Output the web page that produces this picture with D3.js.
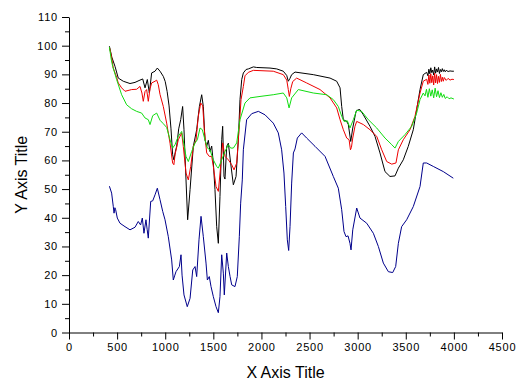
<!DOCTYPE html>
<html>
<head>
<meta charset="utf-8">
<script src="https://cdn.jsdelivr.net/npm/d3@7"></script>
<style>
  html, body { margin: 0; padding: 0; background: #fff; }
  svg { display: block; }
  .tick text { font-family: "Liberation Sans", Arial, sans-serif; font-size: 11px; letter-spacing: 0.8px; fill: #000; }
  .title { font-family: "Liberation Sans", Arial, sans-serif; font-size: 16px; fill: #000; }
</style>
</head>
<body>
<svg id="chart" width="523" height="383"></svg>
<script>
// ---------- data ----------
const xTicks = [0, 500, 1000, 1500, 2000, 2500, 3000, 3500, 4000, 4500];
const yTicks = [0, 10, 20, 30, 40, 50, 60, 70, 80, 90, 100, 110];
const xTitle = "X Axis Title";
const yTitle = "Y Axis Title";

const blackSeries = [[420,99.8],[445,96],[478,92.8],[512,88.7],[564,87.6],[634,86.8],[686,87.2],[738,88.0],[766,88.4],[790,85.3],[814,88.2],[835,83.5],[859,90.5],[894,91.1],[918,92.2],[946,91.1],[980,89.3],[1000,87.5],[1020,84],[1040,79],[1060,71],[1077,62],[1090,60.2],[1105,63],[1119,64.9],[1140,71],[1161,74.2],[1181,78.8],[1195,70.7],[1216,53.2],[1233,39.3],[1258,49.8],[1292,64.9],[1327,70.7],[1355,78.8],[1379,82.9],[1396,78.8],[1413,67.2],[1431,64.9],[1448,67],[1465,63.1],[1483,65],[1500,59.1],[1517,49.8],[1535,36.9],[1552,31.1],[1569,47.4],[1587,67.2],[1597,71.9],[1611,54.4],[1621,53.5],[1639,64.9],[1656,66],[1680,59.1],[1708,51.5],[1736,54.4],[1760,67.2],[1777,81.2],[1795,88.2],[1812,90.5],[1840,91.7],[1864,91.9],[1916,92.6],[1951,92.4],[2089,92.2],[2159,91.9],[2227,91.1],[2263,89.6],[2279,87.6],[2295,88.5],[2314,89.9],[2349,90.8],[2539,89.9],[2713,88.7],[2782,87.6],[2817,85.3],[2834,78.8],[2851,74.2],[2886,73.6],[2903,72.5],[2928,66.6],[2949,71.3],[2983,77.1],[3007,77.7],[3024,77.7],[3059,75.9],[3128,71.9],[3180,68.4],[3232,62.6],[3284,56.1],[3336,54.4],[3388,54.6],[3423,57.3],[3474,60.2],[3526,64.9],[3578,70.7],[3613,77.7],[3648,84.7],[3682,89.9],[3717,90.7],[3730,89.5],[3740,91.8],[3750,90.2],[3760,92.3],[3770,90.6],[3780,91.5],[3790,89.8],[3800,92.6],[3810,90.4],[3820,91.9],[3830,90.8],[3840,92.4],[3850,90.3],[3860,91.7],[3870,90.9],[3880,92.0],[3890,91.0],[3900,91.6],[3910,90.9],[3920,91.4],[3940,91.0],[3960,91.2],[3980,91.1],[4000,91.1]];

const redSeries = [[420,99.5],[440,96.5],[460,92.2],[495,89],[512,87.0],[547,85.3],[582,84.1],[651,84.7],[703,84.8],[738,85.8],[758,83.5],[772,80.6],[790,84],[807,84.7],[824,80.6],[842,85],[859,87.0],[894,87.6],[911,88.0],[928,86.4],[946,83],[980,78.8],[1015,73.0],[1050,66],[1077,59.1],[1090,58.5],[1102,62],[1136,67.2],[1171,69.6],[1188,64.9],[1216,55.6],[1240,53.2],[1265,57.9],[1292,64.9],[1320,67],[1344,75.4],[1369,80.0],[1390,79],[1406,70.7],[1431,62.6],[1458,61.4],[1483,61.4],[1500,57.9],[1528,50.9],[1552,49.2],[1576,57.9],[1597,66.1],[1621,61.4],[1656,60.2],[1691,58.5],[1715,56.7],[1743,59.1],[1767,70.7],[1788,81.2],[1812,85.8],[1829,89.5],[1864,90.7],[1916,91.4],[2123,91.1],[2227,89.9],[2263,88],[2279,84.7],[2290,82.3],[2305,85],[2325,87.5],[2366,88.7],[2470,87.0],[2609,84.7],[2713,81.8],[2782,78.3],[2817,74.2],[2851,70.7],[2886,67.8],[2911,67.2],[2925,63.7],[2935,64.5],[2949,67.8],[2972,71.9],[2990,73.6],[3059,72.5],[3128,70.7],[3198,68.4],[3250,63.7],[3302,59.6],[3354,58.7],[3398,59.1],[3423,63.7],[3474,67.2],[3544,70.7],[3596,75.4],[3648,83.5],[3682,87.6],[3717,88.3],[3730,86.5],[3740,89.8],[3750,86.9],[3760,90.2],[3770,87.1],[3780,89.5],[3790,86.3],[3800,90.4],[3810,87.0],[3820,89.9],[3830,86.8],[3840,89.3],[3850,87.2],[3860,90.0],[3870,87.5],[3880,89.0],[3890,87.6],[3900,88.9],[3920,87.9],[3940,88.6],[3960,88.0],[3980,88.3],[4000,88.2]];

const greenSeries = [[420,99.5],[440,95],[454,92.8],[495,88.2],[547,82.9],[599,79.4],[651,78.0],[703,77.1],[755,76.5],[790,74.8],[824,74.2],[842,72.5],[870,75.6],[911,76.5],[946,74],[980,72.8],[1015,71.5],[1050,67.2],[1077,64.3],[1102,65.5],[1136,68.4],[1171,70.1],[1188,66.8],[1216,61.4],[1240,59.6],[1275,63.1],[1310,66.1],[1334,67.2],[1362,71.3],[1386,70.7],[1413,67.2],[1438,64.3],[1465,63.7],[1500,60.2],[1535,57.9],[1552,57.3],[1587,60.2],[1621,63.1],[1656,65.5],[1680,64.3],[1708,64.3],[1743,66.1],[1777,74.2],[1829,80.0],[1881,81.8],[1985,82.3],[2123,82.9],[2227,83.5],[2263,81.8],[2287,78.3],[2314,81.8],[2383,84.7],[2539,83.5],[2678,82.9],[2747,81.2],[2799,78.8],[2834,75.4],[2858,73.6],[2893,73.8],[2920,71.3],[2955,74.2],[2990,77.5],[3041,77.1],[3111,74.2],[3198,71.3],[3284,67.8],[3354,65.5],[3388,64.3],[3423,66.6],[3492,69.0],[3562,71.9],[3613,76.5],[3648,81.2],[3682,83.5],[3700,82.5],[3715,84.8],[3730,82.0],[3745,85.0],[3760,82.4],[3775,84.6],[3790,81.8],[3805,85.2],[3820,82.2],[3835,84.3],[3850,81.9],[3865,83.6],[3880,82.0],[3895,83.0],[3910,81.6],[3930,82.2],[3950,81.5],[3970,81.8],[4000,81.4]];

const blueSeries = [[420,51],[443,48.6],[460,44],[468,41.6],[477,43.5],[485,42.8],[502,39.9],[530,38.1],[582,36.9],[634,35.8],[686,36.7],[720,38.7],[744,37.5],[762,39.9],[779,34.6],[800,39.3],[812,36],[824,32.9],[849,45.7],[870,45.9],[894,48.0],[918,50.3],[946,46.3],[974,42.2],[998,39.3],[1032,33.4],[1067,25.3],[1084,18.3],[1100,20],[1112,21.2],[1147,23.0],[1164,27.1],[1175,20],[1195,13.1],[1229,9.0],[1258,11.9],[1286,21.8],[1310,23.0],[1327,19.5],[1351,32.3],[1372,40.5],[1396,33.4],[1424,24.2],[1438,18.3],[1458,19.5],[1476,16.0],[1500,12.5],[1528,9.0],[1552,6.9],[1569,12.5],[1587,27.1],[1604,20.7],[1614,13.1],[1639,27.7],[1656,23.0],[1674,19.5],[1691,16.6],[1725,16.0],[1749,19.5],[1770,33.4],[1784,45.1],[1801,53.2],[1812,63.7],[1846,74.2],[1899,76.3],[1968,77.1],[2037,75.9],[2123,73.0],[2175,69.6],[2210,63.7],[2234,55.6],[2252,43.9],[2269,32.3],[2283,28.6],[2297,36.9],[2314,52.1],[2332,62.6],[2349,64],[2373,67.8],[2418,69.6],[2470,67.8],[2557,64.9],[2661,61.4],[2747,54.4],[2799,50.3],[2834,42.8],[2858,35.2],[2879,33.4],[2900,33.7],[2920,31.1],[2931,28.8],[2949,35.8],[2990,43.4],[3024,39.9],[3094,38.1],[3163,34.6],[3215,30.0],[3267,24.2],[3319,21.2],[3364,20.9],[3395,23.0],[3423,31.1],[3457,36.9],[3509,39.3],[3578,43.9],[3648,50.9],[3682,59.1],[3717,59.1],[3786,57.9],[3890,56.1],[3994,53.8]];

const seriesList = [
  { name: "black", data: blackSeries, color: "#000000" },
  { name: "red", data: redSeries, color: "#ee0000" },
  { name: "green", data: greenSeries, color: "#11dd11" },
  { name: "blue", data: blueSeries, color: "#00008b" }
];

// ---------- layout ----------
const svg = d3.select("#chart");
const mLeft = 69, mRight = 502, mTop = 17, mBottom = 332.5;

const x = d3.scaleLinear().domain([0, 4500]).range([mLeft, mRight]);
const y = d3.scaleLinear().domain([0, 110]).range([mBottom, mTop]);

svg.append("rect").attr("width", 523).attr("height", 383).attr("fill", "#fff");

// minor ticks
const xMinor = d3.range(250, 4500, 500);
const yMinor = d3.range(5, 110, 10);

svg.append("g").attr("transform", `translate(0,${mBottom})`)
  .call(d3.axisBottom(x).tickValues(xMinor).tickSize(4).tickSizeOuter(0).tickFormat(""))
  .call(g => g.select(".domain").remove());
svg.append("g").attr("transform", `translate(${mLeft},0)`)
  .call(d3.axisLeft(y).tickValues(yMinor).tickSize(4).tickSizeOuter(0).tickFormat(""))
  .call(g => g.select(".domain").remove());

svg.append("g").attr("transform", `translate(0,${mBottom})`)
  .call(d3.axisBottom(x).tickValues(xTicks).tickSize(7).tickSizeOuter(0).tickPadding(4).tickFormat(d3.format("d")));
svg.append("g").attr("transform", `translate(${mLeft},0)`)
  .call(d3.axisLeft(y).tickValues(yTicks).tickSize(7).tickSizeOuter(0).tickPadding(4).tickFormat(d3.format("d")));

svg.selectAll(".domain").attr("stroke", "#000").attr("stroke-width", 1);
svg.selectAll(".tick line").attr("stroke", "#000");
svg.selectAll(".tick text").attr("font-family", null).attr("font-size", null);

// lines
const line = d3.line().x(d => x(d[0])).y(d => y(d[1]));
svg.append("g").selectAll("path.series")
  .data(seriesList)
  .join("path")
  .attr("class", "series")
  .attr("fill", "none")
  .attr("stroke", d => d.color)
  .attr("stroke-width", 1)
  .attr("stroke-linejoin", "round")
  .attr("d", d => line(d.data));

// titles
svg.append("text").attr("class", "title")
  .attr("x", (mLeft + mRight) / 2).attr("y", 378)
  .attr("text-anchor", "middle").text(xTitle);
svg.append("text").attr("class", "title")
  .attr("transform", `translate(27,${(mTop + mBottom) / 2}) rotate(-90)`)
  .attr("text-anchor", "middle").text(yTitle);
</script>
</body>
</html>
